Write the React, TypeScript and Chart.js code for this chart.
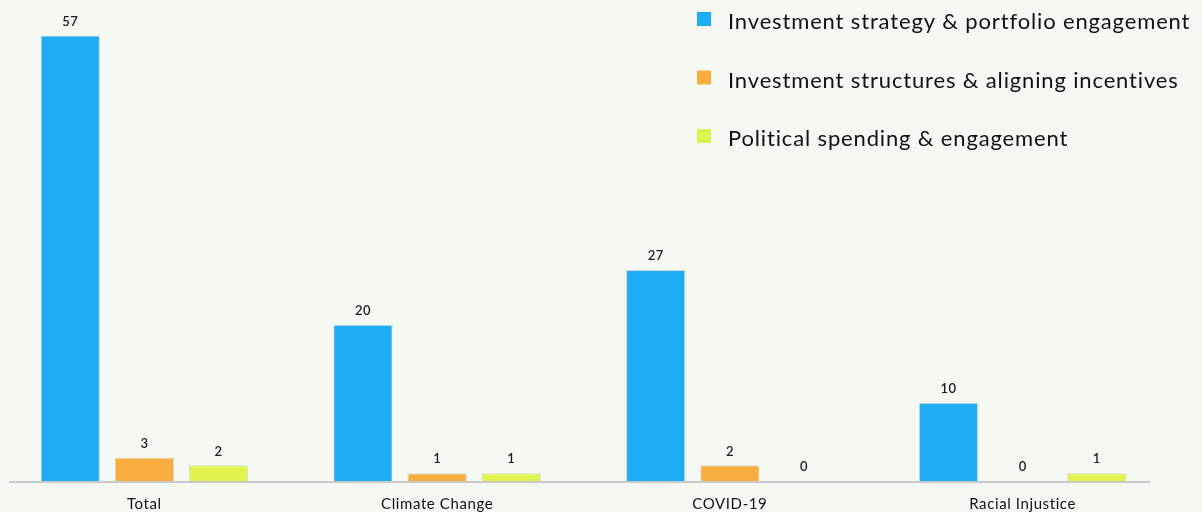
import React, { useEffect, useRef } from "react";
import { Chart, registerables } from "chart.js";

Chart.register(...registerables);

const categories = ["Total", "Climate Change", "COVID-19", "Racial Injustice"];
const seriesNames = [
  "Investment strategy & portfolio engagement",
  "Investment structures & aligning incentives",
  "Political spending & engagement",
];
const strategyValues = [57, 20, 27, 10];
const structuresValues = [3, 1, 2, 0];
const politicalValues = [2, 1, 0, 1];
const seriesColors = ["#1dacf5", "#f7ae3e", "#dff24e"];

const FONT = "Lato, 'Noto Sans', sans-serif";
const BG = "#f6f8f3";

const spacing = {
  id: "spacing",
  beforeDraw(chart: any) {
    chart.ctx.letterSpacing = "0.6px";
  },
};

const valueLabels = {
  id: "valueLabels",
  afterDatasetsDraw(chart: any) {
    const ctx = chart.ctx;
    ctx.save();
    ctx.fillStyle = "#1a1a1a";
    ctx.font = `600 13px ${FONT}`;
    ctx.letterSpacing = "0.3px";
    ctx.textAlign = "center";
    ctx.textBaseline = "middle";
    chart.data.datasets.forEach((ds: any, di: number) => {
      const meta = chart.getDatasetMeta(di);
      meta.data.forEach((bar: any, i: number) => {
        ctx.fillText(String(ds.data[i]), bar.x, bar.y - 14);
      });
    });
    ctx.restore();
  },
};

const baseline = {
  id: "baseline",
  afterDatasetsDraw(chart: any) {
    const ctx = chart.ctx;
    const y = chart.scales.y.getPixelForValue(0) + 1;
    ctx.save();
    ctx.strokeStyle = "#c9c9c9";
    ctx.lineWidth = 2;
    ctx.beginPath();
    ctx.moveTo(chart.chartArea.left + 11, y);
    ctx.lineTo(chart.chartArea.right - 19, y);
    ctx.stroke();
    ctx.restore();
  },
};

const customLegend = {
  id: "customLegend",
  afterDraw(chart: any) {
    const ctx = chart.ctx;
    ctx.save();
    ctx.font = `22px ${FONT}`;
    ctx.letterSpacing = "0.85px";
    ctx.textBaseline = "middle";
    ctx.textAlign = "left";
    chart.data.datasets.forEach((ds: any, i: number) => {
      const cy = 19 + i * 58.5;
      ctx.fillStyle = ds.backgroundColor;
      ctx.fillRect(707, cy - 7, 14, 14);
      ctx.fillStyle = "#111";
      ctx.fillText(ds.label, 738, cy + 3);
    });
    ctx.restore();
  },
};

export default function App() {
  const ref = useRef<HTMLCanvasElement | null>(null);
  useEffect(() => {
    document.body.style.overflow = "hidden";
    document.body.style.background = BG;
    const values = [strategyValues, structuresValues, politicalValues];
    const chart = new Chart(ref.current as HTMLCanvasElement, {
      type: "bar",
      data: {
        labels: categories,
        datasets: seriesNames.map((name, i) => ({
          label: name,
          data: values[i],
          backgroundColor: seriesColors[i],
          borderColor: "rgba(0,0,0,0.12)",
          borderWidth: 1,
          borderSkipped: "bottom",
          categoryPercentage: 0.76,
          barPercentage: 0.8,
        })),
      },
      options: {
        animation: false,
        responsive: false,
        maintainAspectRatio: false,
        layout: { padding: { left: 8, right: 33, top: 12, bottom: -7 } },
        plugins: { legend: { display: false }, tooltip: { enabled: false } },
        scales: {
          x: {
            grid: { display: false },
            border: { display: false },
            ticks: { color: "#111", font: { family: FONT, size: 15 }, padding: 6 },
          },
          y: { display: false, min: 0, max: 60 },
        },
      },
      plugins: [spacing, valueLabels, baseline, customLegend],
    });
    return () => chart.destroy();
  }, []);
  return (
    <div style={{ position: "absolute", left: -10, top: 0, width: 1212, height: 512, background: BG }}>
      <canvas ref={ref} width={1212} height={512} style={{ display: "block" }} />
    </div>
  );
}
